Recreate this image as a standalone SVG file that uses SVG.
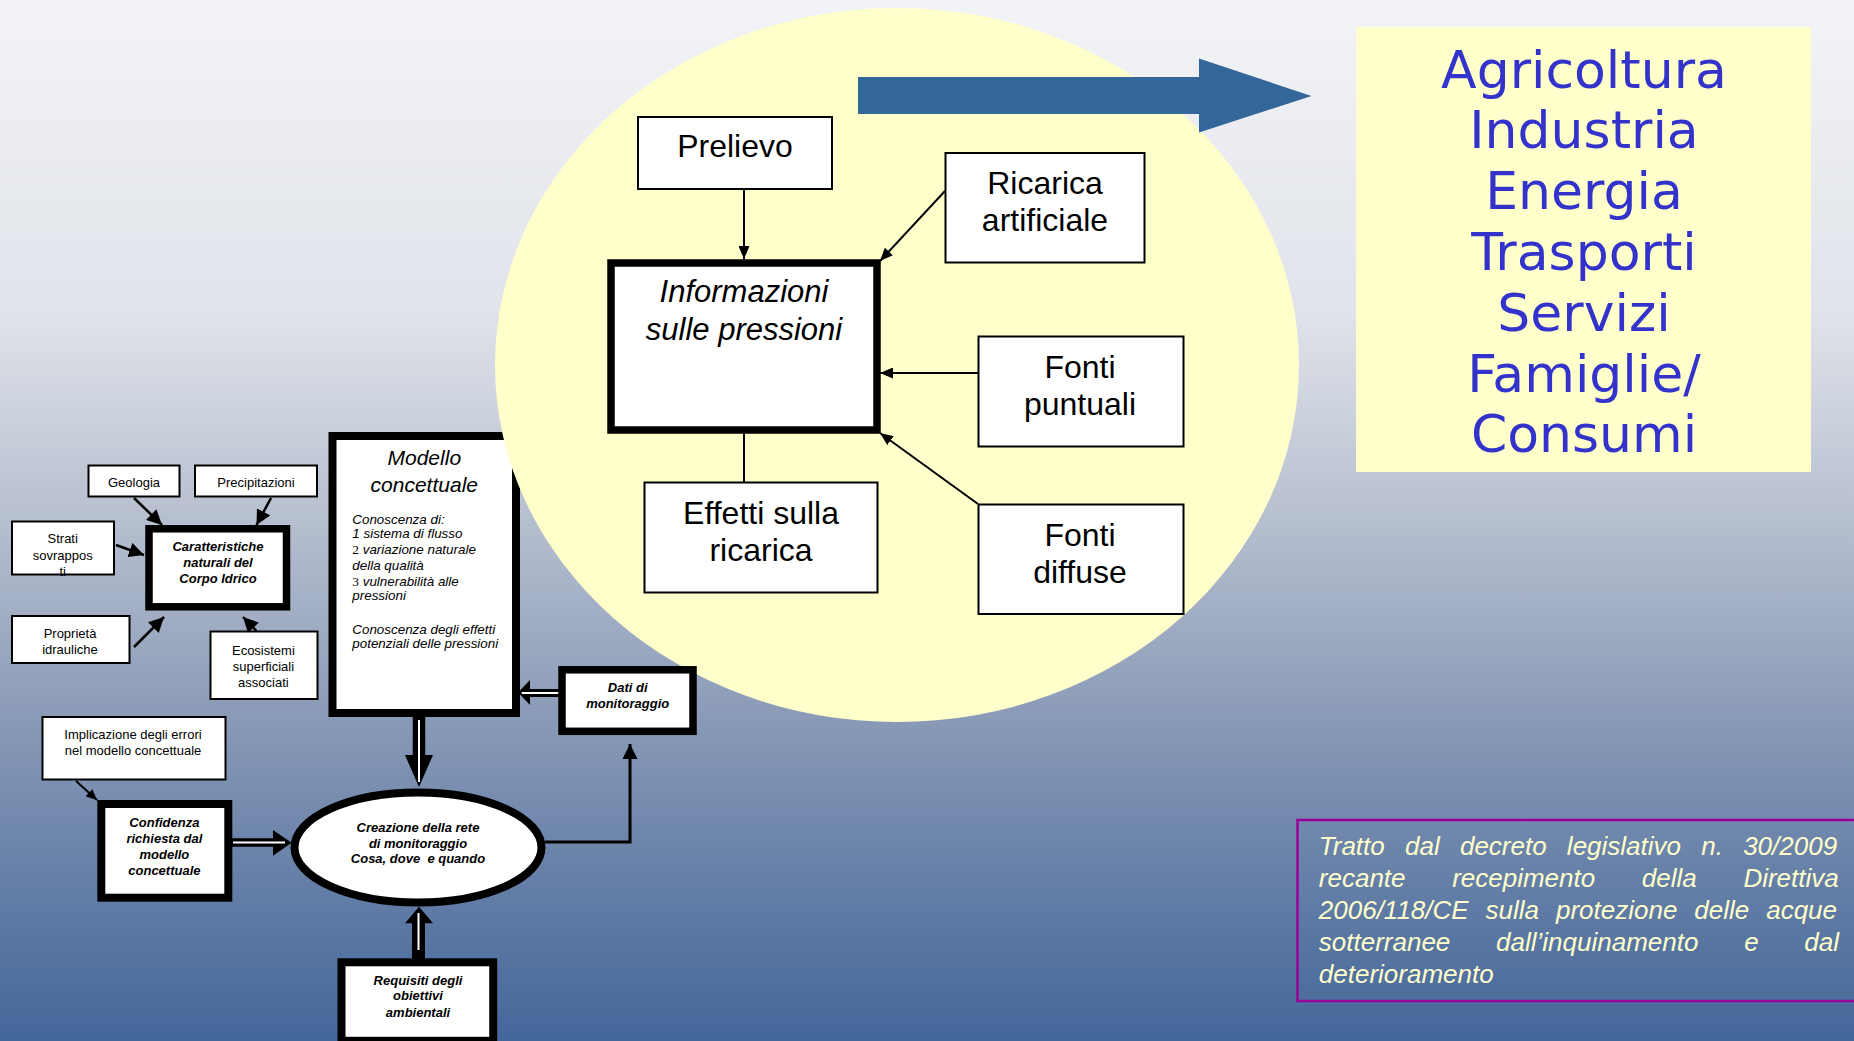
<svg xmlns="http://www.w3.org/2000/svg" width="1854" height="1041" viewBox="0 0 1854 1041">
<defs>
<linearGradient id="bg" x1="0" y1="0" x2="0" y2="1">
<stop offset="0" stop-color="#f3f4f7"/>
<stop offset="0.3" stop-color="#e0e3ea"/>
<stop offset="0.5" stop-color="#b6bfcf"/>
<stop offset="0.68" stop-color="#8c9cb8"/>
<stop offset="0.84" stop-color="#6680a8"/>
<stop offset="1" stop-color="#44679a"/>
</linearGradient>
<marker id="arr" markerUnits="userSpaceOnUse" markerWidth="13" markerHeight="11" refX="13" refY="5.5" orient="auto">
<path d="M0,0 L13,5.5 L0,11 z" fill="#000"/>
</marker>
<marker id="arrL" markerUnits="userSpaceOnUse" markerWidth="15" markerHeight="15" refX="15" refY="7.5" orient="auto">
<path d="M0,0 L15,7.5 L0,15 z" fill="#000"/>
</marker>
<marker id="arrS" markerUnits="userSpaceOnUse" markerWidth="11" markerHeight="10" refX="11" refY="5" orient="auto">
<path d="M0,0 L11,5 L0,10 z" fill="#000"/>
</marker>
<style>
.thin{fill:#fff;stroke:#000;stroke-width:2}
.thick{fill:#fff;stroke:#000;stroke-width:7.5}
.thick8{fill:#fff;stroke:#000;stroke-width:8}
.big{font-family:"Liberation Sans",Arial,sans-serif;font-size:32px;fill:#000;text-anchor:middle}
.bigi{font-family:"Liberation Sans",Arial,sans-serif;font-size:31px;font-style:italic;fill:#000;text-anchor:middle}
.midi{font-family:"Liberation Sans",Arial,sans-serif;font-size:21px;font-style:italic;fill:#000;text-anchor:middle}
.sm{font-family:"Liberation Sans",Arial,sans-serif;font-size:13px;fill:#000;text-anchor:middle}
.smbi{font-family:"Liberation Sans",Arial,sans-serif;font-size:13px;font-weight:bold;font-style:italic;fill:#000;text-anchor:middle}
.mi{font-family:"Liberation Sans",Arial,sans-serif;font-size:13.4px;font-style:italic;fill:#000}
.ser{font-family:"Liberation Serif","Times New Roman",serif;font-style:normal}
.sector{font-family:"DejaVu Sans",Verdana,sans-serif;font-size:52px;fill:#3333cc;text-anchor:middle}
.cite{font-family:"Liberation Sans",Arial,sans-serif;font-size:26px;font-style:italic;fill:#ffffcc}
.ln{stroke:#000;stroke-width:2;fill:none}
.lnL{stroke:#000;stroke-width:2.5;fill:none}
</style>
</defs>
<rect x="0" y="0" width="1854" height="1041" fill="url(#bg)"/>

<g id="modello-concettuale">
<rect x="332.5" y="436" width="183.5" height="277" class="thick8"/>
<text x="424.3" y="465" class="midi">Modello</text>
<text x="424.3" y="491.7" class="midi">concettuale</text>
<text class="mi">
<tspan x="352.3" y="524.3">Conoscenza di:</tspan>
<tspan x="352.3" y="538.3">1 sistema di flusso</tspan>
<tspan x="352.3" y="554"><tspan class="ser">2</tspan> variazione naturale</tspan>
<tspan x="352.3" y="570">della qualità</tspan>
<tspan x="352.3" y="585.7"><tspan class="ser">3</tspan> vulnerabilità alle</tspan>
<tspan x="352.3" y="600">pressioni</tspan>
<tspan x="352.3" y="634">Conoscenza degli effetti</tspan>
<tspan x="352.3" y="648.3">potenziali delle pressioni</tspan>
</text>
</g>

<g id="area-pressioni">
<ellipse cx="897" cy="365" rx="402" ry="357" fill="#ffffcc"/>
</g>

<g id="connectors">
<path d="M858,77 H1199 V58.5 L1311.5,96 L1199,132.5 V114 H858 z" fill="#336699"/>
<line x1="744" y1="189" x2="744" y2="259" class="ln" marker-end="url(#arr)"/>
<line x1="945" y1="191" x2="880" y2="261" class="ln" marker-end="url(#arr)"/>
<line x1="978" y1="373" x2="880" y2="373" class="ln" marker-end="url(#arr)"/>
<line x1="978" y1="504" x2="880" y2="433" class="ln" marker-end="url(#arr)"/>
<line x1="744" y1="434" x2="744" y2="482" class="ln"/>
<line x1="134" y1="498" x2="162" y2="525" class="lnL" marker-end="url(#arrL)"/>
<line x1="271" y1="498" x2="256.5" y2="525" class="lnL" marker-end="url(#arrL)"/>
<line x1="116" y1="545" x2="144" y2="555" class="lnL" marker-end="url(#arrL)"/>
<line x1="134" y1="647" x2="164" y2="617" class="lnL" marker-end="url(#arrL)"/>
<line x1="256.5" y1="631" x2="243" y2="617" class="lnL" marker-end="url(#arrL)"/>
<line x1="76" y1="781" x2="97" y2="800" class="ln" marker-end="url(#arrS)"/>
<path d="M545,842 H630 V744" stroke="#000" stroke-width="3" fill="none" marker-end="url(#arrL)"/>
<g id="dbl-modello-creazione">
<line x1="419" y1="712" x2="419" y2="756" stroke="#000" stroke-width="12.5"/>
<path d="M405,755 L433,755 L419,787 z" fill="#000"/>
<line x1="419" y1="720" x2="419" y2="782" stroke="#fff" stroke-width="2"/>
</g>
<g id="dbl-confidenza-creazione">
<line x1="231" y1="842.5" x2="274" y2="842.5" stroke="#000" stroke-width="8.5"/>
<path d="M273,830 L273,855.7 L291.7,842.8 z" fill="#000"/>
<line x1="233" y1="842.5" x2="285" y2="842.5" stroke="#fff" stroke-width="2"/>
</g>
<g id="dbl-requisiti-creazione">
<line x1="418.5" y1="960" x2="418.5" y2="922" stroke="#000" stroke-width="13"/>
<path d="M405,923.3 L433,923.3 L419,906.7 z" fill="#000"/>
<line x1="418.5" y1="950" x2="418.5" y2="913" stroke="#fff" stroke-width="2"/>
</g>
<g id="dbl-dati-modello">
<line x1="560" y1="693" x2="529" y2="693" stroke="#000" stroke-width="8"/>
<path d="M530,680 L530,705 L518,692.5 z" fill="#000"/>
<line x1="560" y1="693" x2="521.7" y2="693" stroke="#fff" stroke-width="2"/>
</g>
</g>

<g id="prelievo">
<rect x="638" y="117" width="194" height="72" class="thin"/>
<text x="735" y="157" class="big">Prelievo</text>
</g>
<g id="ricarica-artificiale">
<rect x="945.5" y="153" width="199" height="109.5" class="thin"/>
<text x="1045" y="194" class="big">Ricarica</text>
<text x="1045" y="231" class="big">artificiale</text>
</g>
<g id="informazioni-pressioni">
<rect x="611" y="263" width="266" height="167" class="thick"/>
<text x="744" y="302" class="bigi">Informazioni</text>
<text x="744" y="340" class="bigi">sulle pressioni</text>
</g>
<g id="fonti-puntuali">
<rect x="978.5" y="336.5" width="205" height="110" class="thin"/>
<text x="1080" y="377.5" class="big">Fonti</text>
<text x="1080" y="415" class="big">puntuali</text>
</g>
<g id="fonti-diffuse">
<rect x="978.5" y="504.5" width="205" height="109.5" class="thin"/>
<text x="1080" y="545.5" class="big">Fonti</text>
<text x="1080" y="583" class="big">diffuse</text>
</g>
<g id="effetti-ricarica">
<rect x="644.5" y="482.5" width="233" height="110" class="thin"/>
<text x="761" y="524" class="big">Effetti sulla</text>
<text x="761" y="561" class="big">ricarica</text>
</g>

<g id="settori">
<rect x="1356" y="27" width="455" height="445" fill="#ffffcc"/>
<text x="1584" y="88" class="sector">Agricoltura</text>
<text x="1584" y="148" class="sector">Industria</text>
<text x="1584" y="209" class="sector">Energia</text>
<text x="1584" y="270" class="sector">Trasporti</text>
<text x="1584" y="331" class="sector">Servizi</text>
<text x="1584" y="392" class="sector">Famiglie/</text>
<text x="1584" y="452" class="sector">Consumi</text>
</g>

<g id="geologia">
<rect x="88.5" y="465.5" width="91" height="31" class="thin"/>
<text x="134" y="486.7" class="sm">Geologia</text>
</g>
<g id="precipitazioni">
<rect x="195" y="465.5" width="122" height="31" class="thin"/>
<text x="256" y="486.7" class="sm">Precipitazioni</text>
</g>
<g id="strati-sovrapposti">
<rect x="12" y="521.5" width="102" height="53" fill="#fff"/>
<text x="62.7" y="543" class="sm">Strati</text>
<text x="62.7" y="560" class="sm">sovrappos</text>
<text x="62.7" y="575.5" class="sm">ti</text>
<rect x="12" y="521.5" width="102" height="53" fill="none" stroke="#000" stroke-width="2"/>
</g>
<g id="caratteristiche">
<rect x="149" y="528.8" width="137.5" height="78" class="thick"/>
<text x="218" y="550.7" class="smbi">Caratteristiche</text>
<text x="218" y="566.7" class="smbi">naturali del</text>
<text x="218" y="582.7" class="smbi">Corpo Idrico</text>
</g>
<g id="proprieta-idrauliche">
<rect x="12" y="616" width="117.5" height="47" class="thin"/>
<text x="70" y="638.3" class="sm">Proprietà</text>
<text x="70" y="654" class="sm">idrauliche</text>
</g>
<g id="ecosistemi">
<rect x="210.5" y="631.5" width="107" height="67.5" class="thin"/>
<text x="263.4" y="655" class="sm">Ecosistemi</text>
<text x="263.4" y="670.7" class="sm">superficiali</text>
<text x="263.4" y="686.7" class="sm">associati</text>
</g>
<g id="dati-monitoraggio">
<rect x="562" y="669.8" width="131" height="61.5" class="thick"/>
<text x="627.7" y="691.7" class="smbi">Dati di</text>
<text x="627.7" y="708.3" class="smbi">monitoraggio</text>
</g>
<g id="implicazione">
<rect x="42.5" y="717" width="183" height="62.5" class="thin"/>
<text x="133" y="739.3" class="sm">Implicazione degli errori</text>
<text x="133" y="755" class="sm">nel modello concettuale</text>
</g>
<g id="confidenza">
<rect x="101.3" y="804" width="127" height="93.7" class="thick8"/>
<text x="164.4" y="826.7" class="smbi">Confidenza</text>
<text x="164.4" y="842.7" class="smbi">richiesta dal</text>
<text x="164.4" y="858.7" class="smbi">modello</text>
<text x="164.4" y="874.7" class="smbi">concettuale</text>
</g>
<g id="creazione-rete">
<ellipse cx="418" cy="847.5" rx="123.5" ry="55" fill="#fff" stroke="#000" stroke-width="8"/>
<text x="418" y="831.7" class="smbi">Creazione della rete</text>
<text x="418" y="847.7" class="smbi">di monitoraggio</text>
<text x="418" y="863.3" class="smbi" style="white-space:pre">Cosa, dove  e quando</text>
</g>
<g id="requisiti">
<rect x="341.5" y="962.3" width="151.7" height="78.5" class="thick8"/>
<text x="418" y="985" class="smbi">Requisiti degli</text>
<text x="418" y="1000" class="smbi">obiettivi</text>
<text x="418" y="1016.7" class="smbi">ambientali</text>
</g>

<g id="citazione">
<rect x="1297.5" y="820" width="570" height="181" fill="none" stroke="#990099" stroke-width="2.5"/>
<text x="1318.8" y="855" class="cite" word-spacing="13">Tratto dal decreto legislativo n. 30/2009</text>
<text x="1318.8" y="887.3" class="cite" word-spacing="39.4">recante recepimento della Direttiva</text>
<text x="1318.8" y="919.3" class="cite" word-spacing="9.7">2006/118/CE sulla protezione delle acque</text>
<text x="1318.8" y="950.7" class="cite" word-spacing="38.5">sotterranee dall’inquinamento e dal</text>
<text x="1318.8" y="983.3" class="cite">deterioramento</text>
</g>
</svg>
